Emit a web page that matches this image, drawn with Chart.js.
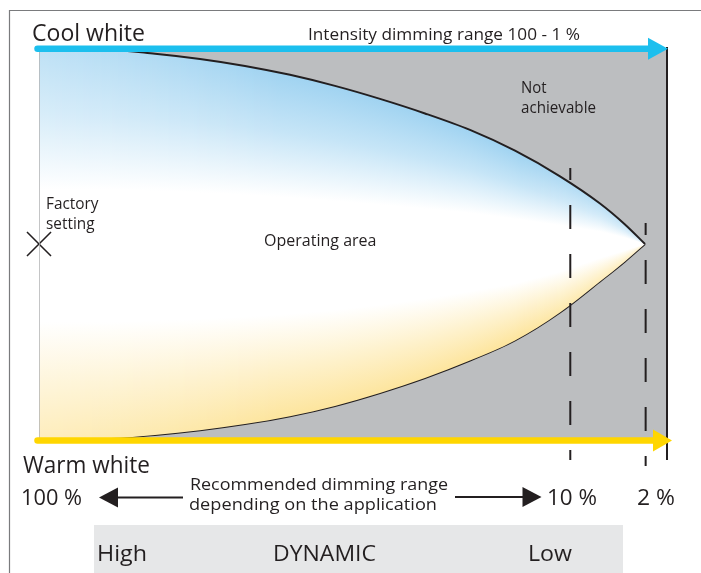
<!DOCTYPE html>
<html><head><meta charset="utf-8">
<script src="https://cdn.jsdelivr.net/npm/chart.js@4.4.1/dist/chart.umd.min.js"></script>
<style>html,body{margin:0;padding:0;background:#fff;}canvas{display:block;}</style>
</head><body>
<canvas id="c" width="701" height="573"></canvas>
<script>
// ---------- data (x: position along the dimming axis 0..100, y: colour temperature -1 warm .. +1 cool) ----------
const dimPos    = [0, 11.31, 18.47, 25.64, 32.80, 39.97, 47.13, 54.30, 61.46, 68.63, 75.80, 82.96, 89.33, 93.31, 96.5];
const coolLimit = [1, 1, 0.981, 0.954, 0.918, 0.872, 0.815, 0.748, 0.673, 0.588, 0.481, 0.349, 0.209, 0.101, 0];
const warmLimit = [-1, -1, -0.984, -0.960, -0.928, -0.888, -0.835, -0.768, -0.691, -0.601, -0.497, -0.353, -0.193, -0.090, 0];
const fullRange = [0, 100];
const markerPos    = [84.6, 96.6];      // 10 %, 2 % boundaries
const markerTop    = [0.392, 0.108];
const markerBottom = [-1.113, -1.144];
const endPos = [100];
const endSpan = [1.0155, -1.113];
const factorySetting = [0, 0];
const rangeLabels = ['100 %', '10 %', '2 %'];
const levelLabels = ['High', 'DYNAMIC', 'Low'];
const coolLabel = 'Cool white';
const warmLabel = 'Warm white';
const intensityLabel = 'Intensity dimming range 100 - 1 %';
const notAchievable = ['Not', 'achievable'];
const factoryLabel = ['Factory', 'setting'];
const operatingLabel = 'Operating area';
const recommendedLabel = ['Recommended dimming range', 'depending on the application'];

// ---------- styles ----------
const INK = '#231f20';
const GREY = '#bcbec0';
const CYAN = '#1cbfee';
const YELLOW = '#ffd600';
const FONT = '"Open Sans", "Noto Sans", sans-serif';
const BLUE = [160, 211, 241];
const WARM = [253, 229, 158];

const toPts = (xs, ys) => xs.map((x, i) => ({x, y: ys[i]}));

function mixW(c, f) { return 'rgb(' + c.map(v => Math.round(v + (255 - v) * f)).join(',') + ')'; }

let lensPattern = null;
function lensFill(ctx) {
  const chart = ctx.chart, area = chart.chartArea;
  if (!area) return 'rgba(0,0,0,0)';
  if (lensPattern) return lensPattern;
  const xs = chart.scales.x, ys = chart.scales.y;
  const off = document.createElement('canvas');
  off.width = chart.width; off.height = chart.height;
  const g = off.getContext('2d');
  const px = dimPos.map(v => xs.getPixelForValue(v));
  const pt = coolLimit.map(v => ys.getPixelForValue(v));
  const pb = warmLimit.map(v => ys.getPixelForValue(v));
  const interp = (arr, x) => {
    if (x <= px[0]) return arr[0];
    for (let i = 1; i < px.length; i++) if (x <= px[i]) {
      const f = (x - px[i - 1]) / (px[i] - px[i - 1]);
      return arr[i - 1] + f * (arr[i] - arr[i - 1]);
    }
    return arr[arr.length - 1];
  };
  const xEnd = Math.ceil(px[px.length - 1]) + 3;
  for (let x = Math.floor(area.left); x < xEnd; x++) {
    let top = interp(pt, x + 0.5), bot = interp(pb, x + 0.5);
    if (bot - top < 6) { const m = (top + bot) / 2; top = m - 3; bot = m + 3; }
    const L = Math.max(0, 0.32 * (1 - (x - area.left) / 240));
    const S = Math.min(1, Math.max(0, (x - 520) / 130)) * 0.45;
    const f = Math.min(1, L + S);
    const lg = g.createLinearGradient(0, top, 0, bot);
    lg.addColorStop(0, mixW(BLUE, f));
    lg.addColorStop(0.17, mixW(BLUE, f + (1 - f) * 0.4));
    lg.addColorStop(0.36, '#ffffff');
    lg.addColorStop(0.70, '#ffffff');
    lg.addColorStop(0.86, mixW(WARM, f + (1 - f) * 0.45));
    lg.addColorStop(1, mixW(WARM, f));
    g.fillStyle = lg;
    g.fillRect(x, area.top - 2, 1, area.bottom - area.top + 4);
  }
  lensPattern = chart.ctx.createPattern(off, 'no-repeat');
  return lensPattern;
}

function head(c, tipX, y, len, half, color) {
  c.beginPath();
  c.moveTo(tipX, y);
  c.lineTo(tipX - len, y - half);
  c.lineTo(tipX - len, y + half);
  c.closePath();
  c.fillStyle = color;
  c.fill();
}

function fitText(c, s, x, y, size, w) {
  c.font = size + 'px ' + FONT;
  const nat = c.measureText(s).width;
  let sx = w ? w / nat : 1;
  sx = Math.max(0.8, Math.min(1.2, sx));
  c.save();
  c.translate(x, y);
  c.scale(sx, 1);
  c.fillStyle = INK;
  c.textAlign = 'left';
  c.textBaseline = 'alphabetic';
  c.fillText(s, 0, 0);
  c.restore();
}

const decor = {
  id: 'decor',
  beforeDraw(chart) {
    const c = chart.ctx;
    c.save();
    c.fillStyle = '#fff';
    c.fillRect(0, 0, chart.width, chart.height);
    // outer frame
    c.strokeStyle = '#7a7b7d';
    c.lineWidth = 1.2;
    c.beginPath();
    c.moveTo(9.5, chart.height);
    c.lineTo(9.5, 10.5);
    c.lineTo(chart.width, 10.5);
    c.stroke();
    // bottom band
    c.fillStyle = '#e6e7e8';
    c.fillRect(94, 525, 529, 48);
    c.restore();
  },
  afterDatasetsDraw(chart) {
    const c = chart.ctx, xs = chart.scales.x, ys = chart.scales.y;
    const x0 = xs.getPixelForValue(0), x1 = xs.getPixelForValue(100);
    c.save();
    // cool white arrow
    const yc = ys.getPixelForValue(1) - 1.3;
    c.strokeStyle = CYAN; c.lineWidth = 6.5; c.lineCap = 'round';
    c.beginPath(); c.moveTo(x0 - 1.5, yc); c.lineTo(x1 - 17, yc); c.stroke();
    c.lineCap = 'butt';
    head(c, x1 + 1, yc, 20, 11, CYAN);
    // warm white arrow
    const yw = ys.getPixelForValue(-1) + 2.5;
    c.strokeStyle = YELLOW; c.lineCap = 'round';
    c.beginPath(); c.moveTo(x0 - 1.5, yw); c.lineTo(x1 - 13, yw); c.stroke();
    c.lineCap = 'butt';
    head(c, x1 + 5, yw, 19, 11, YELLOW);
    // recommended range arrows
    c.strokeStyle = INK; c.lineWidth = 2;
    c.beginPath(); c.moveTo(117, 497.5); c.lineTo(183, 497.5); c.stroke();
    head(c, 99, 497.5, -19, 10, INK);
    c.beginPath(); c.moveTo(455, 497); c.lineTo(524, 497); c.stroke();
    head(c, 541.5, 497, 19, 10, INK);
    c.restore();
  },
  afterDraw(chart) {
    const c = chart.ctx;
    fitText(c, coolLabel, 32, 40.5, 24, 113);
    fitText(c, intensityLabel, 308, 40, 15.5, 272);
    fitText(c, notAchievable[0], 521, 92.5, 15.5, 25.5);
    fitText(c, notAchievable[1], 521, 113, 15.5, 75);
    fitText(c, factoryLabel[0], 46, 208.5, 15.5, 52.5);
    fitText(c, factoryLabel[1], 46, 229, 15.5, 48.5);
    fitText(c, operatingLabel, 264, 246, 15.5, 112.5);
    fitText(c, warmLabel, 23, 473, 24, 127);
    fitText(c, rangeLabels[0], 21, 504.5, 21.5, 61);
    fitText(c, recommendedLabel[0], 190, 490, 15.5, 258);
    fitText(c, recommendedLabel[1], 189, 509.5, 15.5, 248);
    fitText(c, rangeLabels[1], 547, 505, 21.5, 50);
    fitText(c, rangeLabels[2], 637, 505, 21.5, 38);
    fitText(c, levelLabels[0], 97, 561, 22, 50);
    fitText(c, levelLabels[1], 273, 561, 22, 103);
    fitText(c, levelLabels[2], 528, 561, 22, 44);
  }
};

const noLine = {borderColor: 'rgba(0,0,0,0)', borderWidth: 0, pointRadius: 0};

new Chart(document.getElementById('c'), {
  type: 'line',
  data: {
    datasets: [
      {label: 'cool limit', data: toPts(dimPos, coolLimit), borderColor: INK, borderWidth: 2, pointRadius: 0,
       cubicInterpolationMode: 'monotone', fill: '+1', backgroundColor: lensFill, order: 1},
      {label: 'warm limit', data: toPts(dimPos, warmLimit), borderColor: INK, borderWidth: 2, pointRadius: 0,
       cubicInterpolationMode: 'monotone', fill: false, order: 1},
      Object.assign({label: 'frame top', data: fullRange.map(x => ({x, y: 1})), fill: '+1', backgroundColor: GREY, order: 3}, noLine),
      Object.assign({label: 'frame bottom', data: fullRange.map(x => ({x, y: -1})), fill: false, order: 3}, noLine),
      {label: 'left edge', data: [{x: fullRange[0], y: 1}, {x: fullRange[0], y: -1}], borderColor: '#b1b2b4', borderWidth: 1.5, pointRadius: 0, fill: false, order: 0},
      ...markerPos.map((x, i) => ({label: 'marker ' + i, data: [{x, y: markerTop[i]}, {x, y: markerBottom[i]}],
        borderColor: INK, borderWidth: 2, borderDash: [24, 25], borderDashOffset: 12, pointRadius: 0, fill: false, clip: false, order: 0})),
      {label: 'end', data: [{x: endPos[0], y: endSpan[0]}, {x: endPos[0], y: endSpan[1]}], borderColor: INK, borderWidth: 2, pointRadius: 0, fill: false, clip: false, order: 0},
      {label: 'factory', data: [{x: factorySetting[0], y: factorySetting[1]}], showLine: false, pointStyle: 'crossRot',
       pointRadius: 17, pointBorderColor: INK, pointBackgroundColor: INK, pointBorderWidth: 1.5, clip: false, order: 0}
    ]
  },
  options: {
    responsive: false,
    animation: false,
    events: [],
    layout: {padding: {left: 39, right: 34, top: 50, bottom: 135}},
    scales: {
      x: {type: 'linear', min: 0, max: 100, display: false},
      y: {type: 'linear', min: -1, max: 1, display: false}
    },
    plugins: {legend: {display: false}, tooltip: {enabled: false}}
  },
  plugins: [decor]
});
</script>
</body></html>
